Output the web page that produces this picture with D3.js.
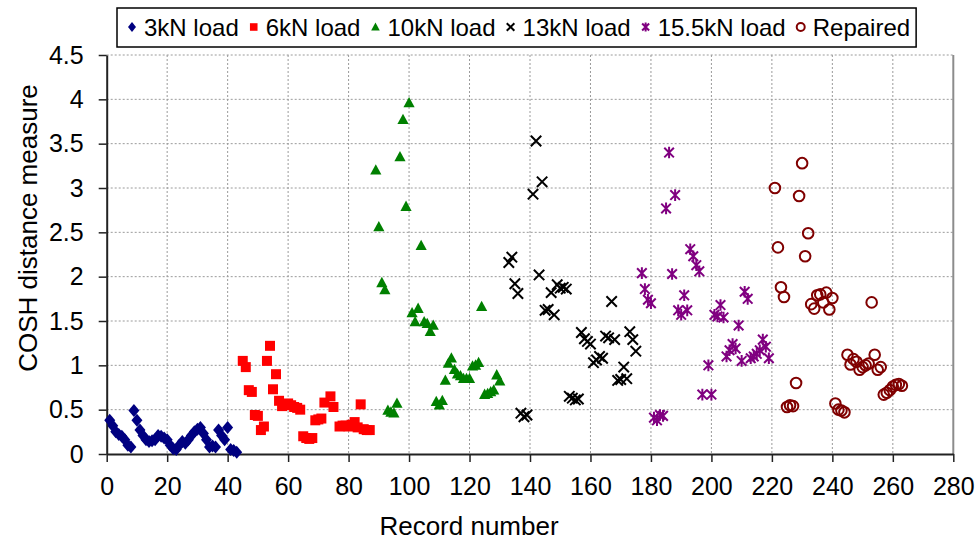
<!DOCTYPE html>
<html>
<head>
<meta charset="utf-8">
<script src="https://cdn.jsdelivr.net/npm/d3@7"></script>
<style>
  html, body { margin: 0; padding: 0; background: #fff; }
  svg { display: block; font-family: "Liberation Sans", Arial, sans-serif; }
</style>
</head>
<body>
<svg id="chart" width="979" height="540"></svg>
<script>
// Record numbers and COSH distance values for each loading stage
const load3kN_x = [1,2,3,4,5,6,7,8,9,10,11,12,13,14,15,16,17,18,19,20,21,22,23,24,25,26,27,28,29,30,31,32,33,34,35,36,37,38,39,40,41,42,43];
const load3kN_y = [0.38,0.32,0.25,0.22,0.20,0.16,0.10,0.08,0.49,0.38,0.27,0.21,0.16,0.14,0.15,0.16,0.21,0.20,0.18,0.16,0.10,0.06,0.05,0.10,0.14,0.12,0.16,0.21,0.25,0.28,0.30,0.23,0.16,0.08,0.09,0.08,0.27,0.21,0.16,0.30,0.05,0.04,0.02];

const load6kN_x = [45,46,47,48,49,50,51,52,53,54,55,56,57,58,59,60,61,62,63,64,65,66,67,68,69,70,71,72,74,75,77,78,79,80,81,82,83,84,85,86,87];
const load6kN_y = [1.05,0.98,0.72,0.70,0.44,0.43,0.27,0.31,1.05,1.22,0.73,0.90,0.60,0.54,0.56,0.57,0.55,0.53,0.52,0.50,0.20,0.18,0.17,0.18,0.38,0.39,0.40,0.58,0.65,0.53,0.31,0.32,0.32,0.31,0.33,0.36,0.30,0.56,0.28,0.27,0.27];

const load10kN_x = [89,90,91,92,93,94,95,96,97,98,99,100,101,102,103,104,105,106,107,108,109,110,111,112,113,114,115,116,117,118,119,120,121,122,123,124,125,126,127,128,129,130];
const load10kN_y = [3.20,2.56,1.93,1.85,0.49,0.47,0.46,0.57,3.35,3.77,2.79,3.96,1.59,1.49,1.64,2.35,1.49,1.47,1.38,1.45,0.59,0.55,0.60,0.83,1.02,1.08,0.95,0.90,0.88,0.85,0.85,0.85,0.99,1.00,1.03,1.66,0.67,0.68,0.70,0.72,0.89,0.82];

const load13kN_x = [133,134,135,136,137,138,139,141,142,143,144,145,146,147,148,149,150,151,152,153,154,155,156,157,158,159,160,161,162,163,164,165,166,167,168,169,170,171,172,173,174,175];
const load13kN_y = [2.16,2.22,1.92,1.81,0.46,0.42,0.44,2.93,3.53,2.02,3.07,1.62,1.63,1.82,1.57,1.91,1.87,1.88,1.86,0.65,0.63,0.61,0.62,1.37,1.30,1.27,1.24,1.03,1.06,1.10,1.08,1.33,1.31,1.72,1.29,0.83,0.84,0.98,0.85,1.38,1.29,1.16];

const load15kN_x = [177,178,179,180,181,182,183,184,185,186,187,188,189,190,191,192,193,194,195,196,197,199,200,201,202,203,204,205,206,207,208,209,210,211,212,213,214,215,216,217,218,219];
const load15kN_y = [2.04,1.86,1.74,1.70,0.41,0.38,0.44,0.43,2.77,3.40,2.03,2.92,1.62,1.57,1.79,1.62,2.31,2.23,2.13,2.06,0.67,1.00,0.67,1.57,1.55,1.68,1.54,1.10,1.17,1.24,1.19,1.45,1.05,1.83,1.75,1.08,1.10,1.13,1.17,1.29,1.21,1.08];

const repaired_x = [221,222,223,224,225,226,227,228,229,230,231,232,233,234,235,236,237,238,239,240,241,242,243,244,245,246,247,248,249,250,251,252,253,254,255,256,257,258,259,260,261,262,263];
const repaired_y = [3.00,2.33,1.88,1.77,0.53,0.55,0.54,0.80,2.91,3.28,2.23,2.49,1.69,1.64,1.79,1.80,1.71,1.82,1.63,1.76,0.57,0.50,0.49,0.47,1.12,1.01,1.07,1.04,0.95,0.98,1.00,1.02,1.71,1.12,0.95,0.98,0.67,0.69,0.72,0.76,0.78,0.79,0.77];

const seriesNames = ["3kN load", "6kN load", "10kN load", "13kN load", "15.5kN load", "Repaired"];
const xTicks = [0,20,40,60,80,100,120,140,160,180,200,220,240,260,280];
const yTicks = [0,0.5,1,1.5,2,2.5,3,3.5,4,4.5];
const yTickLabels = ["0","0.5","1","1.5","2","2.5","3","3.5","4","4.5"];

// marker definitions: path, fill, stroke
const markers = [
  { path: "M0,-6.5L5.5,0L0,6.5L-5.5,0Z", fill: "#000080", stroke: "none", sw: 0,
    legend: "M0,-5L4,0L0,5L-4,0Z" },
  { path: "M-5,-5H5V5H-5Z", fill: "#ff0000", stroke: "none", sw: 0,
    legend: "M-3.8,-3.8H3.8V3.8H-3.8Z" },
  { path: "M0,-6L5.6,4.3L-5.6,4.3Z", fill: "#008000", stroke: "none", sw: 0,
    legend: "M0,-4.6L4.3,3.4L-4.3,3.4Z" },
  { path: "M-5.2,-5.2L5.2,5.2M-5.2,5.2L5.2,-5.2", fill: "none", stroke: "#000000", sw: 2,
    legend: "M-3.8,-3.8L3.8,3.8M-3.8,3.8L3.8,-3.8" },
  { path: "M-4.8,-4.8L4.8,4.8M-4.8,4.8L4.8,-4.8M0,-5.8L0,5.8", fill: "none", stroke: "#800080", sw: 2,
    legend: "M-3.5,-3.5L3.5,3.5M-3.5,3.5L3.5,-3.5M0,-4.5L0,4.5" },
  { path: "M5.3,0A5.3,5.3 0 1,1 -5.3,0A5.3,5.3 0 1,1 5.3,0Z", fill: "none", stroke: "#800000", sw: 2,
    legend: "M4,0A4,4 0 1,1 -4,0A4,4 0 1,1 4,0Z" }
];

const seriesX = [load3kN_x, load6kN_x, load10kN_x, load13kN_x, load15kN_x, repaired_x];
const seriesY = [load3kN_y, load6kN_y, load10kN_y, load13kN_y, load15kN_y, repaired_y];
const series = seriesNames.map((name, i) => ({
  name,
  marker: markers[i],
  points: seriesX[i].map((xv, j) => ({ x: xv, y: seriesY[i][j] }))
}));

const svg = d3.select("#chart");
const plotLeft = 106.7, plotRight = 953.3, plotTop = 55, plotBottom = 454;

const x = d3.scaleLinear().domain([0, 280]).range([plotLeft, plotRight]);
const y = d3.scaleLinear().domain([0, 4.5]).range([plotBottom, plotTop]);

// gridlines
const grid = svg.append("g").attr("class", "grid");
grid.selectAll("line.h").data(yTicks.filter(v => v > 0)).join("line")
  .attr("x1", plotLeft).attr("x2", plotRight)
  .attr("y1", d => y(d)).attr("y2", d => y(d))
  .attr("stroke", "#9a9a9a").attr("stroke-width", 1).attr("stroke-dasharray", "2,2");
grid.selectAll("line.v").data(xTicks.filter(v => v > 0 && v < 280)).join("line")
  .attr("x1", d => x(d)).attr("x2", d => x(d))
  .attr("y1", plotTop).attr("y2", plotBottom)
  .attr("stroke", "#9a9a9a").attr("stroke-width", 1).attr("stroke-dasharray", "2,2");

// right border of plot area
svg.append("line")
  .attr("x1", plotRight).attr("x2", plotRight).attr("y1", plotTop).attr("y2", plotBottom)
  .attr("stroke", "#8c8c8c").attr("stroke-width", 2);

// axes
const xAxis = svg.append("g")
  .attr("transform", `translate(0,${plotBottom})`)
  .call(d3.axisBottom(x).tickValues(xTicks).tickFormat(d3.format("d")).tickSize(8).tickPadding(15).tickSizeOuter(0));
const yAxis = svg.append("g")
  .attr("transform", `translate(${plotLeft},0)`)
  .call(d3.axisLeft(y).tickValues(yTicks).tickFormat((d, i) => yTickLabels[i]).tickSize(8).tickPadding(15).tickSizeOuter(0));

[xAxis, yAxis].forEach(g => {
  g.select(".domain").attr("stroke", "#222").attr("stroke-width", 2);
  g.selectAll(".tick line").attr("stroke", "#222").attr("stroke-width", 1.5);
  g.selectAll(".tick text").attr("fill", "#000").style("font-size", "25px")
    .style("font-family", "'Liberation Sans', Arial, sans-serif");
});

// axis titles
svg.append("text")
  .attr("x", 469).attr("y", 535)
  .attr("text-anchor", "middle")
  .style("font-size", "26px")
  .text("Record number");
svg.append("text")
  .attr("transform", "translate(37,228) rotate(-90)")
  .attr("text-anchor", "middle")
  .style("font-size", "26px")
  .text("COSH distance measure");

// data points
series.forEach(s => {
  svg.append("g").selectAll("path").data(s.points).join("path")
    .attr("transform", d => `translate(${x(d.x)},${y(d.y)})`)
    .attr("d", s.marker.path)
    .attr("fill", s.marker.fill)
    .attr("stroke", s.marker.stroke)
    .attr("stroke-width", s.marker.sw);
});

// legend
const legend = svg.append("g");
const legendBox = legend.append("rect")
  .attr("x", 117).attr("y", 8).attr("height", 39)
  .attr("fill", "#fff").attr("stroke", "#000").attr("stroke-width", 1.5);
let cx = 132;
series.forEach((s, i) => {
  legend.append("path")
    .attr("transform", `translate(${cx},27)`)
    .attr("d", s.marker.legend)
    .attr("fill", s.marker.fill)
    .attr("stroke", s.marker.stroke)
    .attr("stroke-width", s.marker.sw);
  const t = legend.append("text")
    .attr("x", cx + 12).attr("y", 35.5)
    .style("font-size", "24px")
    .text(s.name);
  const w = t.node().getComputedTextLength();
  cx = cx + 12 + w + (i < series.length - 1 ? 15 : 0);
});
legendBox.attr("width", cx + 6 - 117);
</script>
</body>
</html>
